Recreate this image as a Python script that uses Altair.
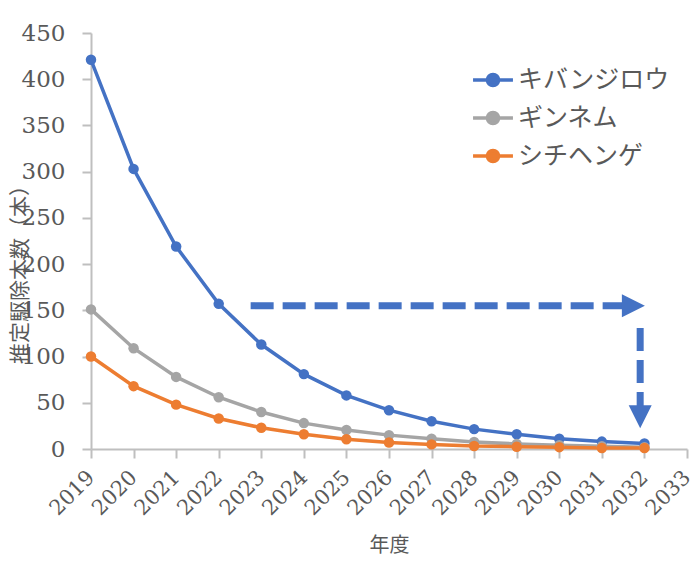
import altair as alt
import pandas as pd

# Estimated removal counts per fiscal year
years = list(range(2019, 2033))
series_names = ["キバンジロウ", "ギンネム", "シチヘンゲ"]
series_colors = ["#4472C4", "#A5A5A5", "#ED7D31"]
kibanjirou = [421, 303, 219, 157, 113, 81, 58, 42, 30, 21.5, 16, 11, 8, 6]
ginnemu = [151, 109, 78, 56, 40, 28, 20.5, 15, 11, 7.5, 5.5, 4, 3, 2]
shichihenge = [100, 68, 48, 33, 23, 16, 10.5, 7, 5, 3.2, 2.5, 2, 1, 1]

# Dashed arrow annotation (year, count)
h_arrow_x = [2022.75, 2031.5]
h_arrow_y = 155
h_head = (2031.74, 155)
v_arrow_x = 2031.9
v_arrow_y = [131, 46]
v_head = (2031.9, 35)

rows = []
for name, vals in zip(series_names, [kibanjirou, ginnemu, shichihenge]):
    for yr, v in zip(years, vals):
        rows.append({"年度": yr, "本数": v, "種": name})
df = pd.DataFrame(rows)

GREY = "#595959"
AX = "#BFBFBF"
SERIF = "DejaVu Serif"
SANS = "Noto Sans CJK JP"

xscale = alt.Scale(domain=[2019, 2033], nice=False, zero=False)
yscale = alt.Scale(domain=[0, 450], nice=False)
color = alt.Color(
    "種:N",
    scale=alt.Scale(domain=series_names, range=series_colors),
    sort=series_names,
    legend=alt.Legend(
        title=None,
        orient="none",
        legendX=385,
        legendY=30,
        symbolType="M-1.33,0L1.33,0M-0.37,0A0.37,0.37,0,1,1,0.37,0A0.37,0.37,0,1,1,-0.37,0Z",
        symbolSize=900,
        symbolStrokeWidth=3.5,
        labelFont=SANS,
        labelFontSize=25,
        labelColor=GREY,
        rowPadding=8,
        labelOffset=8,
    ),
)

x = alt.X(
    "年度:Q",
    scale=xscale,
    axis=alt.Axis(
        values=list(range(2019, 2034)),
        format="d",
        labelAngle=315,
        labelAlign="right",
        labelBaseline="middle",
        labelPadding=16,
        labelOverlap=False,
        labelFont=SERIF,
        labelFontSize=21,
        labelColor=GREY,
        tickSize=9,
        tickColor=AX,
        tickWidth=2,
        domainColor=AX,
        domainWidth=2,
        grid=False,
        title="年度",
        titleFont=SANS,
        titleFontSize=20,
        titleFontWeight="normal",
        titleColor=GREY,
        titleBaseline="middle",
        titleY=96,
    ),
)
y = alt.Y(
    "本数:Q",
    scale=yscale,
    axis=alt.Axis(
        values=list(range(0, 451, 50)),
        labelOverlap=False,
        labelFont=SERIF,
        labelFontSize=23,
        labelColor=GREY,
        labelPadding=17,
        tickSize=9,
        tickColor=AX,
        tickWidth=2,
        domainColor=AX,
        domainWidth=2,
        grid=False,
        title="推定駆除本数（本）",
        titleFont=SANS,
        titleFontSize=21,
        titleFontWeight="normal",
        titleColor=GREY,
        titleAngle=270,
        titleAlign="center",
        titleBaseline="middle",
        titleX=-71,
        titleY=236,
    ),
)

lines = alt.Chart(df).mark_line(strokeWidth=3.5).encode(x=x, y=y, color=color)
points = alt.Chart(df).mark_point(filled=True, size=110, opacity=1).encode(x=x, y=y, color=color)

ARROW = "#4472C4"
hdf = pd.DataFrame({"x": [h_arrow_x[0]], "x2": [h_arrow_x[1]], "y": [h_arrow_y]})
h_line = alt.Chart(hdf).mark_rule(color=ARROW, strokeWidth=7, strokeDash=[23, 9]).encode(
    x=alt.X("x:Q", scale=xscale), x2="x2:Q", y=alt.Y("y:Q", scale=yscale)
)
hh = pd.DataFrame({"x": [h_head[0]], "y": [h_head[1]]})
h_tip = alt.Chart(hh).mark_point(
    shape="M-1,-1L1,0L-1,1Z", size=529, filled=True, color=ARROW, opacity=1
).encode(x=alt.X("x:Q", scale=xscale), y=alt.Y("y:Q", scale=yscale))

vdf = pd.DataFrame({"x": [v_arrow_x], "y": [v_arrow_y[0]], "y2": [v_arrow_y[1]]})
v_line = alt.Chart(vdf).mark_rule(color=ARROW, strokeWidth=7, strokeDash=[23, 9]).encode(
    x=alt.X("x:Q", scale=xscale), y=alt.Y("y:Q", scale=yscale), y2="y2:Q"
)
vh = pd.DataFrame({"x": [v_head[0]], "y": [v_head[1]]})
v_tip = alt.Chart(vh).mark_point(
    shape="M-1,-1L0,1L1,-1Z", size=529, filled=True, color=ARROW, opacity=1
).encode(x=alt.X("x:Q", scale=xscale), y=alt.Y("y:Q", scale=yscale))

chart = (
    alt.layer(lines, points, h_line, h_tip, v_line, v_tip)
    .properties(
        width=596,
        height=416,
        autosize=alt.AutoSizeParams(type="none"),
        padding={"left": 91, "top": 33, "right": 11, "bottom": 114},
        background="white",
    )
    .configure_view(stroke=None)
)

chart.save("out.html", embed_options={"renderer": "svg", "actions": False})
